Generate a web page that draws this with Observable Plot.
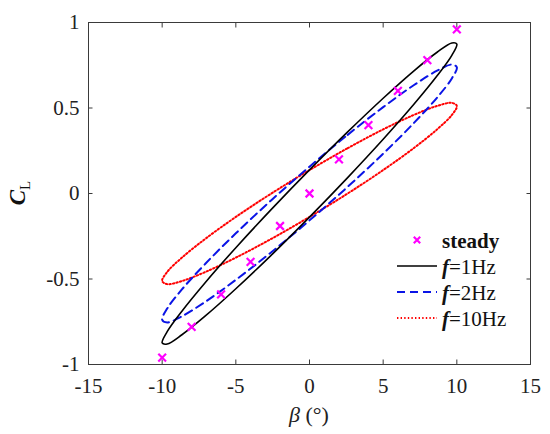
<!DOCTYPE html>
<html>
<head>
<meta charset="utf-8">
<script src="https://cdn.jsdelivr.net/npm/d3@7"></script>
<script src="https://cdn.jsdelivr.net/npm/@observablehq/plot@0.6"></script>
<style>
  html, body { margin: 0; padding: 0; background: #fff; }
  #chart { width: 550px; height: 434px; }
</style>
</head>
<body>
<div id="chart"></div>
<script>
// ---- data ----
const xTicks = [-15, -10, -5, 0, 5, 10, 15];
const yTicks = [-1, -0.5, 0, 0.5, 1];

const steadyBeta = [-10, -8, -6, -4, -2, 0, 2, 4, 6, 8, 10];
const steadyCL   = [-0.96, -0.78, -0.59, -0.40, -0.19, 0, 0.20, 0.40, 0.60, 0.78, 0.96];

const loopBeta = [0, 2.59, 5, 7.07, 8.66, 9.66, 10, 9.66, 8.66, 7.07, 5, 2.59,
                  0, -2.59, -5, -7.07, -8.66, -9.66, -10, -9.66, -8.66, -7.07, -5, -2.59];
const cl1Hz  = [0.138, 0.360, 0.557, 0.716, 0.826, 0.880, 0.874, 0.808, 0.688, 0.520, 0.317, 0.093,
                -0.138, -0.360, -0.557, -0.716, -0.826, -0.880, -0.874, -0.808, -0.688, -0.520, -0.317, -0.093];
const cl2Hz  = [0.157, 0.343, 0.505, 0.633, 0.718, 0.754, 0.738, 0.673, 0.561, 0.411, 0.233, 0.039,
                -0.157, -0.343, -0.505, -0.633, -0.718, -0.754, -0.738, -0.673, -0.561, -0.411, -0.233, -0.039];
const cl10Hz = [0.137, 0.265, 0.375, 0.459, 0.512, 0.530, 0.512, 0.459, 0.375, 0.265, 0.137, 0,
                -0.137, -0.265, -0.375, -0.459, -0.512, -0.530, -0.512, -0.459, -0.375, -0.265, -0.137, 0];

const seriesNames = ["1Hz", "2Hz", "10Hz"];

// ---- tables ----
const steady = steadyBeta.map((b, i) => ({beta: b, cl: steadyCL[i]}));
const loop = (arr) => loopBeta.map((b, i) => ({beta: b, cl: arr[i]}));
const l1 = loop(cl1Hz), l2 = loop(cl2Hz), l10 = loop(cl10Hz);

const FONT = "'Liberation Serif', 'Times New Roman', serif";
const BLUE = "#0a14e6";
const RED_DASH = "1.4,2.2";

const chart = Plot.plot({
  width: 550,
  height: 434,
  marginLeft: 88,
  marginRight: 20,
  marginTop: 22,
  marginBottom: 70,
  x: {domain: [-15, 15]},
  y: {domain: [-1, 1]},
  style: {fontFamily: FONT, fontSize: "21px", background: "#fff", color: "#000", overflow: "visible"},
  marks: [
    Plot.frame({stroke: "#3a3a3a", strokeWidth: 1}),
    // inward ticks on all four sides
    Plot.axisX(xTicks, {anchor: "bottom", tickSize: 4.5, dy: -4.5, tickFormat: () => "", label: null, stroke: "#3a3a3a"}),
    Plot.axisX(xTicks, {anchor: "top", tickSize: 4.5, dy: 4.5, tickFormat: () => "", label: null, stroke: "#3a3a3a"}),
    Plot.axisY(yTicks, {anchor: "left", tickSize: 4.5, dx: 4.5, tickFormat: () => "", label: null, stroke: "#3a3a3a"}),
    Plot.axisY(yTicks, {anchor: "right", tickSize: 4.5, dx: -4.5, tickFormat: () => "", label: null, stroke: "#3a3a3a"}),
    // tick labels
    Plot.axisX(xTicks, {anchor: "bottom", tickSize: 0, tickPadding: 14, tickFormat: d => String(d), label: null, fontSize: 21, fill: "#222"}),
    Plot.axisY(yTicks, {anchor: "left", tickSize: 0, tickPadding: 9, tickFormat: d => String(d), label: null, fontSize: 21, fill: "#222"}),
    // loops
    Plot.line(l10, {x: "beta", y: "cl", curve: "catmull-rom-closed", stroke: "#ff0000", strokeWidth: 2, strokeDasharray: RED_DASH}),
    Plot.line(l2, {x: "beta", y: "cl", curve: "catmull-rom-closed", stroke: BLUE, strokeWidth: 2, strokeDasharray: "8,5"}),
    Plot.line(l1, {x: "beta", y: "cl", curve: "catmull-rom-closed", stroke: "#000", strokeWidth: 1.6}),
    // steady markers
    Plot.dot(steady, {x: "beta", y: "cl", symbol: "times", r: 3.6, stroke: "#ff00ff", strokeWidth: 2.2})
  ]
});

document.getElementById("chart").appendChild(chart);

const svg = d3.select(chart);

// x label
const xl = svg.append("text").attr("x", 309).attr("y", 422).attr("text-anchor", "middle")
  .style("font-family", FONT).style("font-size", "22px").attr("fill", "#222");
xl.append("tspan").style("font-style", "italic").text("β");
xl.append("tspan").text(" (°)");

// y label (rotated)
const yl = svg.append("text").attr("transform", "translate(25,193) rotate(-90)").attr("text-anchor", "middle")
  .style("font-family", FONT).attr("fill", "#111");
yl.append("tspan").style("font-style", "italic").style("font-weight", "bold").style("font-size", "23px").text("C");
yl.append("tspan").attr("dy", 5).style("font-size", "15px").text("L");

// legend
const lg = svg.append("g").style("font-family", FONT).style("font-size", "21px").attr("text-anchor", "start");
const legendRows = [
  {type: "dot", label: "steady", y: 240},
  {type: "line", name: seriesNames[0], y: 266, stroke: "#000", dash: null, w: 1.6},
  {type: "line", name: seriesNames[1], y: 292, stroke: BLUE, dash: "8,5", w: 2},
  {type: "line", name: seriesNames[2], y: 318, stroke: "#ff0000", dash: RED_DASH, w: 2}
];
legendRows.forEach(r => {
  if (r.type === "dot") {
    const s = 3.2;
    lg.append("path").attr("d", `M${417 - s},${r.y - s}L${417 + s},${r.y + s}M${417 - s},${r.y + s}L${417 + s},${r.y - s}`)
      .attr("stroke", "#ff00ff").attr("stroke-width", 2.2).attr("fill", "none");
    lg.append("text").attr("x", 442).attr("y", r.y + 8).attr("text-anchor", "start")
      .style("font-weight", "bold").attr("fill", "#111").text(r.label);
  } else {
    lg.append("line").attr("x1", 397).attr("x2", 437).attr("y1", r.y).attr("y2", r.y)
      .attr("stroke", r.stroke).attr("stroke-width", r.w).attr("stroke-dasharray", r.dash);
    const t = lg.append("text").attr("x", 442).attr("y", r.y + 8).attr("text-anchor", "start").attr("fill", "#111");
    t.append("tspan").style("font-style", "italic").style("font-weight", "bold").text("f");
    t.append("tspan").text("=" + r.name);
  }
});
</script>
</body>
</html>
